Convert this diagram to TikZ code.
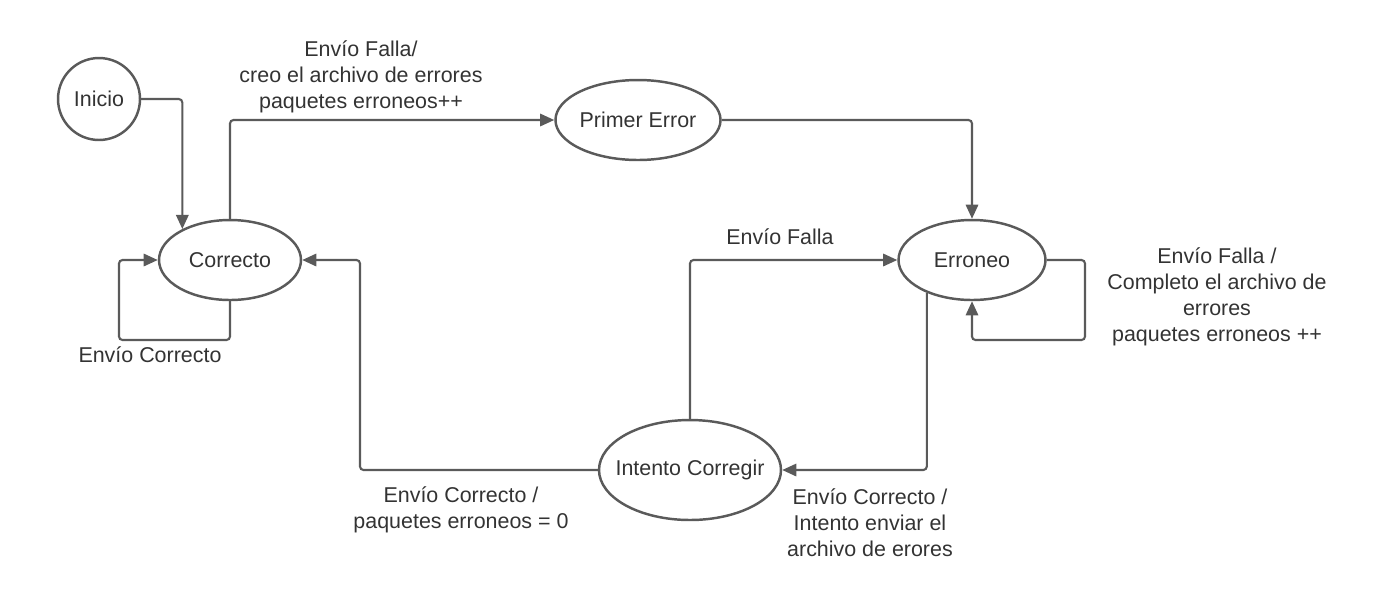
\documentclass[tikz,border=0pt]{standalone}
\usepackage{fontspec}
\setmainfont{Liberation Sans}
\usetikzlibrary{shapes.geometric,arrows.meta}
\definecolor{linegray}{HTML}{5A5A5A}
\definecolor{textgray}{HTML}{333333}
\begin{document}
\begin{tikzpicture}[x=0.02cm, y=-0.02cm,
    font=\fontsize{12.2}{14.8}\selectfont, text=textgray,
    state/.style={ellipse, draw=linegray, line width=1.4pt, inner sep=0pt},
    trans/.style={draw=linegray, line width=1.2pt, rounded corners=2pt, -{Triangle[length=8pt,width=7pt]}},
    lbl/.style={align=center, inner sep=0pt}]
    \useasboundingbox (0,0) rectangle (1396,610);

    % Define the states
    \node[circle, draw=linegray, line width=1.4pt, minimum size=1.64cm, inner sep=0pt] (inicio) at (99,99) {Inicio};
    \node[state, minimum width=2.84cm, minimum height=1.6cm] (correcto) at (230,260) {Correcto};
    \node[state, minimum width=3.28cm, minimum height=1.6cm] (primer) at (638,120) {Primer Error};
    \node[state, minimum width=2.94cm, minimum height=1.6cm] (erroneo) at (972,260) {Erroneo};
    \node[state, inner xsep=-8pt, minimum width=3.64cm, minimum height=2cm] (intento) at (690,470) {Intento Corregir};

    % Helper points for the loops
    \coordinate (loopC) at (119,340);
    \coordinate (loopE) at (1085,340);
    \coordinate (ret) at (360,470);

    % Draw the transitions
    \draw[trans] (inicio.east) -| (correcto.147);
    \draw[trans] (correcto.north) |- (primer.west);
    \draw[trans] (primer.east) -| (erroneo.north);
    \draw[trans] (correcto.south) |- (loopC) |- (correcto.west);
    \draw[trans] (erroneo.east) -| (loopE) -| (erroneo.south);
    \draw[trans] (intento.north) |- (erroneo.west);
    \draw[trans] (erroneo.216) |- (intento.east);
    \draw[trans] (intento.west) -- (ret) |- (correcto.east);

    % Labels
    \node[lbl] (l1) at (361,77) {Envío Falla/\\creo el archivo de errores\\paquetes erroneos++};
    \node[lbl] (l2) at (150,355) {Envío Correcto};
    \node[lbl] (l3) at (780,237) {Envío Falla};
    \node[lbl] (l4) at (1217,297) {Envío Falla /\\Completo el archivo de\\errores\\paquetes erroneos ++};
    \node[lbl] (l5) at (461,510) {Envío Correcto /\\paquetes erroneos = 0};
    \node[lbl] (l6) at (870,523) {Envío Correcto /\\Intento enviar el\\archivo de erores};
\end{tikzpicture}
\end{document}
